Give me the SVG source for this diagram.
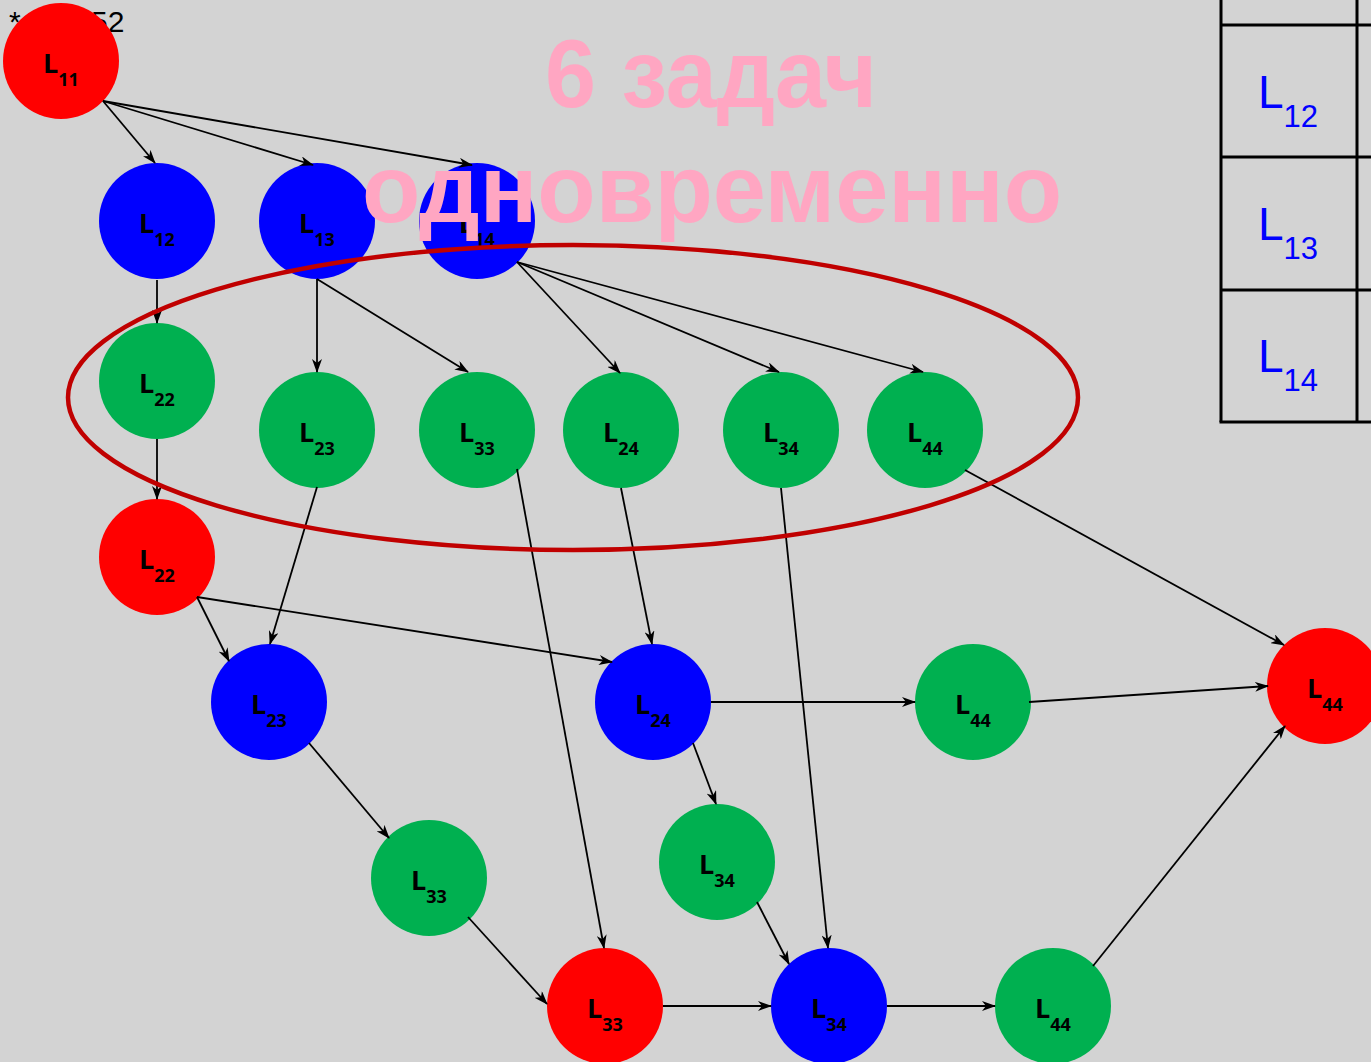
<svg xmlns="http://www.w3.org/2000/svg" width="1371" height="1062" viewBox="0 0 1371 1062">
<style>
.n text{font-family:"Open Sans","DejaVu Sans",sans-serif;font-weight:bold;font-size:27px;fill:#000;text-anchor:middle}
.n .s{font-size:18px}
.red{fill:#FF0000}.blue{fill:#0000FF}.green{fill:#00B050}
#edges line{stroke:#000;stroke-width:1.8;marker-end:url(#arr)}
.tbl line{stroke:#000;stroke-width:3}
.tt{font-family:"Liberation Sans",Arial,sans-serif;font-size:46px;fill:#0000FF}
.tt .s{font-size:31px}
.pink{font-family:"Liberation Sans",Arial,sans-serif;font-weight:bold;fill:#FFA6C2;text-anchor:middle}
</style>
<defs>
<marker id="arr" markerUnits="userSpaceOnUse" markerWidth="14" markerHeight="10" refX="13" refY="5" orient="auto" viewBox="0 0 14 10">
<path d="M0,0 L14,5 L0,10 L4,5 z" fill="#000"/>
</marker>
</defs>
<rect width="1371" height="1062" fill="#D3D3D3"/>
<text x="9" y="32" font-family="Liberation Sans,Arial,sans-serif" font-size="30" fill="#000">*<tspan x="91">52</tspan></text>
<g class="tbl">
<line x1="1221" y1="0" x2="1221" y2="422"/>
<line x1="1357" y1="0" x2="1357" y2="422"/>
<line x1="1221" y1="25" x2="1371" y2="25"/>
<line x1="1221" y1="157" x2="1371" y2="157"/>
<line x1="1221" y1="290" x2="1371" y2="290"/>
<line x1="1219.5" y1="422" x2="1371" y2="422"/>
<text class="tt" x="1258" y="108">L<tspan class="s" dy="19">12</tspan></text>
<text class="tt" x="1258" y="240">L<tspan class="s" dy="19">13</tspan></text>
<text class="tt" x="1258" y="372">L<tspan class="s" dy="19">14</tspan></text>
</g>
<g id="nodes" class="n">
<g id="n11"><circle class="red" cx="61" cy="61" r="58"/><text x="61" y="73">L<tspan class="s" dy="13">11</tspan></text></g>
<g id="n12"><circle class="blue" cx="157" cy="221" r="58"/><text x="157" y="233">L<tspan class="s" dy="13">12</tspan></text></g>
<g id="n13"><circle class="blue" cx="317" cy="221" r="58"/><text x="317" y="233">L<tspan class="s" dy="13">13</tspan></text></g>
<g id="n14"><circle class="blue" cx="477" cy="221" r="58"/><text x="477" y="233">L<tspan class="s" dy="13">14</tspan></text></g>
<g id="n22g"><circle class="green" cx="157" cy="381" r="58"/><text x="157" y="393">L<tspan class="s" dy="13">22</tspan></text></g>
<g id="n23g"><circle class="green" cx="317" cy="430" r="58"/><text x="317" y="442">L<tspan class="s" dy="13">23</tspan></text></g>
<g id="n33g"><circle class="green" cx="477" cy="430" r="58"/><text x="477" y="442">L<tspan class="s" dy="13">33</tspan></text></g>
<g id="n24g"><circle class="green" cx="621" cy="430" r="58"/><text x="621" y="442">L<tspan class="s" dy="13">24</tspan></text></g>
<g id="n34g"><circle class="green" cx="781" cy="430" r="58"/><text x="781" y="442">L<tspan class="s" dy="13">34</tspan></text></g>
<g id="n44g"><circle class="green" cx="925" cy="430" r="58"/><text x="925" y="442">L<tspan class="s" dy="13">44</tspan></text></g>
<g id="n22r"><circle class="red" cx="157" cy="557" r="58"/><text x="157" y="569">L<tspan class="s" dy="13">22</tspan></text></g>
<g id="n23b"><circle class="blue" cx="269" cy="702" r="58"/><text x="269" y="714">L<tspan class="s" dy="13">23</tspan></text></g>
<g id="n24b"><circle class="blue" cx="653" cy="702" r="58"/><text x="653" y="714">L<tspan class="s" dy="13">24</tspan></text></g>
<g id="n44g2"><circle class="green" cx="973" cy="702" r="58"/><text x="973" y="714">L<tspan class="s" dy="13">44</tspan></text></g>
<g id="n44r"><circle class="red" cx="1325" cy="686" r="58"/><text x="1325" y="698">L<tspan class="s" dy="13">44</tspan></text></g>
<g id="n33g2"><circle class="green" cx="429" cy="878" r="58"/><text x="429" y="890">L<tspan class="s" dy="13">33</tspan></text></g>
<g id="n34g2"><circle class="green" cx="717" cy="862" r="58"/><text x="717" y="874">L<tspan class="s" dy="13">34</tspan></text></g>
<g id="n33r"><circle class="red" cx="605" cy="1006" r="58"/><text x="605" y="1018">L<tspan class="s" dy="13">33</tspan></text></g>
<g id="n34b"><circle class="blue" cx="829" cy="1006" r="58"/><text x="829" y="1018">L<tspan class="s" dy="13">34</tspan></text></g>
<g id="n44g3"><circle class="green" cx="1053" cy="1006" r="58"/><text x="1053" y="1018">L<tspan class="s" dy="13">44</tspan></text></g>
</g>
<g id="edges">
<line x1="103" y1="101" x2="155" y2="163"/>
<line x1="103" y1="101" x2="313" y2="165"/>
<line x1="103" y1="101" x2="472" y2="165"/>
<line x1="157" y1="280" x2="157" y2="323"/>
<line x1="317" y1="279" x2="317" y2="372"/>
<line x1="317" y1="279" x2="468" y2="372"/>
<line x1="517" y1="262" x2="620" y2="373"/>
<line x1="517" y1="262" x2="779" y2="372"/>
<line x1="517" y1="262" x2="923" y2="372"/>
<line x1="157" y1="439" x2="157" y2="499"/>
<line x1="317" y1="487" x2="270" y2="644"/>
<line x1="517" y1="469" x2="604" y2="948"/>
<line x1="621" y1="488" x2="652" y2="644"/>
<line x1="781" y1="488" x2="828" y2="948"/>
<line x1="965" y1="470" x2="1284" y2="645"/>
<line x1="197" y1="597" x2="229" y2="661"/>
<line x1="197" y1="597" x2="612" y2="662"/>
<line x1="711" y1="702" x2="915" y2="702"/>
<line x1="1029" y1="702" x2="1268" y2="686"/>
<line x1="693" y1="743" x2="716" y2="804"/>
<line x1="309" y1="743" x2="389" y2="838"/>
<line x1="468" y1="917" x2="547" y2="1004"/>
<line x1="663" y1="1006" x2="771" y2="1006"/>
<line x1="757" y1="902" x2="789" y2="964"/>
<line x1="887" y1="1006" x2="995" y2="1006"/>
<line x1="1093" y1="966" x2="1285" y2="726"/>
</g>
<ellipse cx="573" cy="397.5" rx="505" ry="152.5" fill="none" stroke="#C00000" stroke-width="4.5"/>
<text class="pink" x="711" y="107" font-size="96" textLength="332" lengthAdjust="spacingAndGlyphs">6 задач</text>
<text class="pink" x="712" y="222" font-size="96" textLength="700" lengthAdjust="spacingAndGlyphs">одновременно</text>
</svg>
